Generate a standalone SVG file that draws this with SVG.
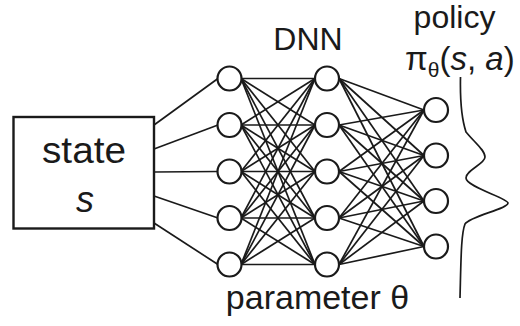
<svg xmlns="http://www.w3.org/2000/svg" width="520" height="326" viewBox="0 0 520 326">
<style>
.t{font-family:"Liberation Sans",Arial,sans-serif;fill:#1a1a1a}
.n{fill:#fff;stroke:#1a1a1a;stroke-width:2.2}
.c{stroke:#1a1a1a;stroke-width:1.7;fill:none}
</style>
<rect width="520" height="326" fill="#fff"/>
<g id="connectors" class="c">
<g id="box-l1">
<line x1="154" y1="125" x2="218" y2="78.5"/>
<line x1="154" y1="149" x2="218" y2="125"/>
<line x1="154" y1="172" x2="218" y2="171.5"/>
<line x1="154" y1="196" x2="218" y2="218"/>
<line x1="154" y1="223" x2="218" y2="264.5"/>
</g>
<g id="l1-l2">
<line x1="241" y1="78.5" x2="315" y2="78.5"/><line x1="241" y1="78.5" x2="315" y2="125"/><line x1="241" y1="78.5" x2="315" y2="171.5"/><line x1="241" y1="78.5" x2="315" y2="218"/><line x1="241" y1="78.5" x2="315" y2="264.5"/>
<line x1="241" y1="125" x2="315" y2="78.5"/><line x1="241" y1="125" x2="315" y2="125"/><line x1="241" y1="125" x2="315" y2="171.5"/><line x1="241" y1="125" x2="315" y2="218"/><line x1="241" y1="125" x2="315" y2="264.5"/>
<line x1="241" y1="171.5" x2="315" y2="78.5"/><line x1="241" y1="171.5" x2="315" y2="125"/><line x1="241" y1="171.5" x2="315" y2="171.5"/><line x1="241" y1="171.5" x2="315" y2="218"/><line x1="241" y1="171.5" x2="315" y2="264.5"/>
<line x1="241" y1="218" x2="315" y2="78.5"/><line x1="241" y1="218" x2="315" y2="125"/><line x1="241" y1="218" x2="315" y2="171.5"/><line x1="241" y1="218" x2="315" y2="218"/><line x1="241" y1="218" x2="315" y2="264.5"/>
<line x1="241" y1="264.5" x2="315" y2="78.5"/><line x1="241" y1="264.5" x2="315" y2="125"/><line x1="241" y1="264.5" x2="315" y2="171.5"/><line x1="241" y1="264.5" x2="315" y2="218"/><line x1="241" y1="264.5" x2="315" y2="264.5"/>
</g>
<g id="l2-l3">
<line x1="339" y1="78.5" x2="424" y2="110"/><line x1="339" y1="78.5" x2="424" y2="155.5"/><line x1="339" y1="78.5" x2="424" y2="201"/><line x1="339" y1="78.5" x2="424" y2="246.5"/>
<line x1="339" y1="125" x2="424" y2="110"/><line x1="339" y1="125" x2="424" y2="155.5"/><line x1="339" y1="125" x2="424" y2="201"/><line x1="339" y1="125" x2="424" y2="246.5"/>
<line x1="339" y1="171.5" x2="424" y2="110"/><line x1="339" y1="171.5" x2="424" y2="155.5"/><line x1="339" y1="171.5" x2="424" y2="201"/><line x1="339" y1="171.5" x2="424" y2="246.5"/>
<line x1="339" y1="218" x2="424" y2="110"/><line x1="339" y1="218" x2="424" y2="155.5"/><line x1="339" y1="218" x2="424" y2="201"/><line x1="339" y1="218" x2="424" y2="246.5"/>
<line x1="339" y1="264.5" x2="424" y2="110"/><line x1="339" y1="264.5" x2="424" y2="155.5"/><line x1="339" y1="264.5" x2="424" y2="201"/><line x1="339" y1="264.5" x2="424" y2="246.5"/>
</g>
</g>
<g id="state">
<rect x="13.5" y="117" width="140.5" height="111.5" fill="#fff" stroke="#1a1a1a" stroke-width="2.4"/>
<text class="t" x="84" y="163" font-size="36" text-anchor="middle" textLength="84" lengthAdjust="spacingAndGlyphs">state</text>
<text class="t" x="85" y="212" font-size="36" text-anchor="middle" font-style="italic">s</text>
</g>
<g id="layer1">
<circle id="h1-1" class="n" cx="229.5" cy="78.5" r="12"/>
<circle id="h1-2" class="n" cx="229.5" cy="125" r="12"/>
<circle id="h1-3" class="n" cx="229.5" cy="171.5" r="12"/>
<circle id="h1-4" class="n" cx="229.5" cy="218" r="12"/>
<circle id="h1-5" class="n" cx="229.5" cy="264.5" r="12"/>
</g>
<g id="layer2">
<circle id="h2-1" class="n" cx="327" cy="78.5" r="12"/>
<circle id="h2-2" class="n" cx="327" cy="125" r="12"/>
<circle id="h2-3" class="n" cx="327" cy="171.5" r="12"/>
<circle id="h2-4" class="n" cx="327" cy="218" r="12"/>
<circle id="h2-5" class="n" cx="327" cy="264.5" r="12"/>
</g>
<g id="output">
<circle id="o1" class="n" cx="436" cy="110" r="12"/>
<circle id="o2" class="n" cx="436" cy="155.5" r="12"/>
<circle id="o3" class="n" cx="436" cy="201" r="12"/>
<circle id="o4" class="n" cx="436" cy="246.5" r="12"/>
</g>
<g id="dnn-label"><text class="t" x="308" y="50" font-size="32" text-anchor="middle">DNN</text></g>
<g id="param-label"><text class="t" x="317.5" y="309" font-size="34" text-anchor="middle">parameter θ</text></g>
<g id="policy">
<text class="t" x="454.5" y="28" font-size="32" text-anchor="middle">policy</text>
<text class="t" x="405" y="70" font-size="33">π<tspan font-size="21" dy="7">θ</tspan><tspan dy="-7">(</tspan><tspan font-style="italic">s</tspan>, <tspan font-style="italic">a</tspan>)</text>
<path class="c" d="M460.5 77 C460 100,462 120,466 132 C474 142,485 150,485 157 C485 164,466 170,466 178 C466 187,508 198,508 203 C508 209,470 216,465 224 C461 234,461 260,460 298"/>
</g>
</svg>
